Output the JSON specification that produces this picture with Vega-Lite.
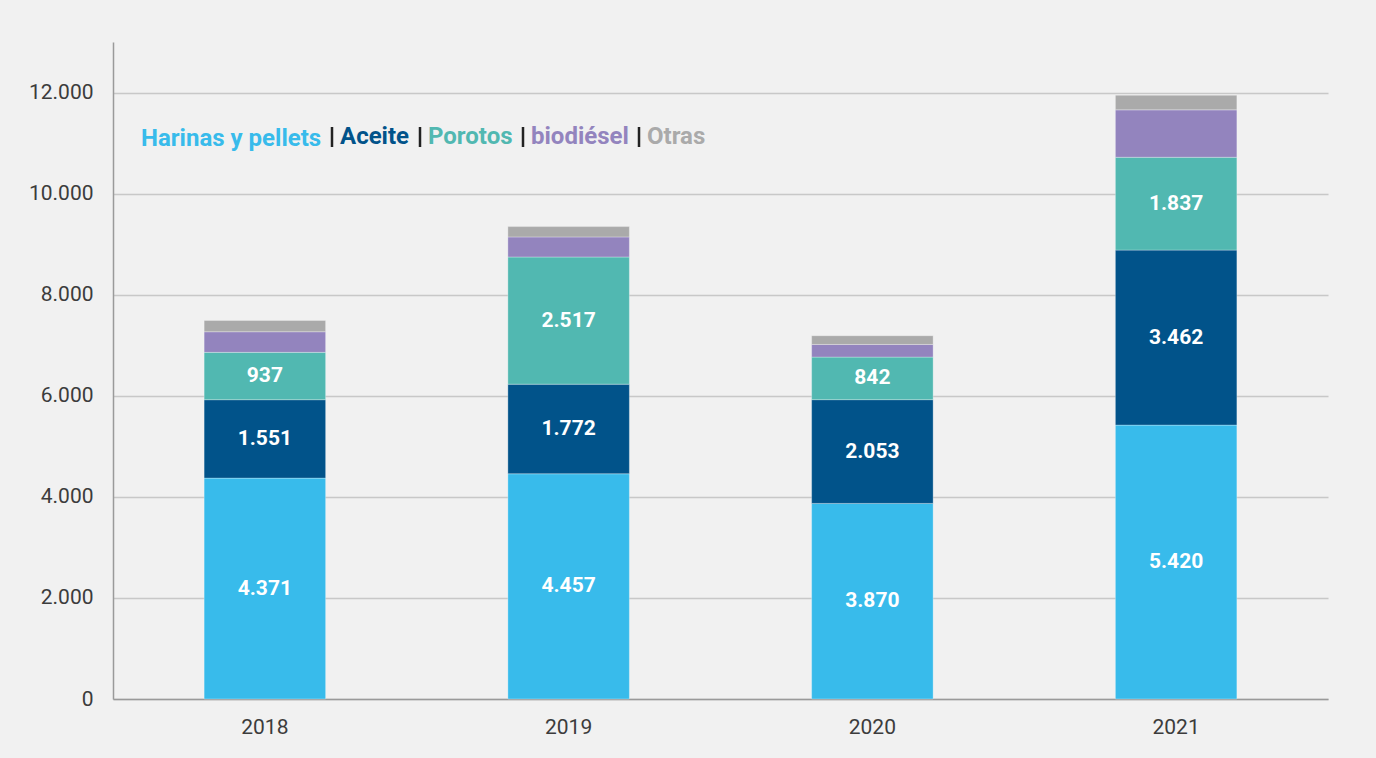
{
  "$schema": "https://vega.github.io/schema/vega-lite/v6.json",
  "width": 1215,
  "height": 657,
  "autosize": {"type": "none"},
  "padding": {"left": 113, "top": 42, "right": 48, "bottom": 59},
  "background": "#f1f1f1",
  "config": {
    "font": "Roboto",
    "view": {"stroke": null},
    "locale": {"number": {"decimal": ",", "thousands": ".", "grouping": [3], "currency": ["$", ""]}}
  },
  "data": {
    "values": [
      {"anio": "2018", "serie": "Harinas y pellets", "k": 1, "valor": 4371},
      {"anio": "2018", "serie": "Aceite", "k": 2, "valor": 1551},
      {"anio": "2018", "serie": "Porotos", "k": 3, "valor": 937},
      {"anio": "2018", "serie": "biodiésel", "k": 4, "valor": 408},
      {"anio": "2018", "serie": "Otras", "k": 5, "valor": 224},
      {"anio": "2019", "serie": "Harinas y pellets", "k": 1, "valor": 4457},
      {"anio": "2019", "serie": "Aceite", "k": 2, "valor": 1772},
      {"anio": "2019", "serie": "Porotos", "k": 3, "valor": 2517},
      {"anio": "2019", "serie": "biodiésel", "k": 4, "valor": 397},
      {"anio": "2019", "serie": "Otras", "k": 5, "valor": 204},
      {"anio": "2020", "serie": "Harinas y pellets", "k": 1, "valor": 3870},
      {"anio": "2020", "serie": "Aceite", "k": 2, "valor": 2053},
      {"anio": "2020", "serie": "Porotos", "k": 3, "valor": 842},
      {"anio": "2020", "serie": "biodiésel", "k": 4, "valor": 251},
      {"anio": "2020", "serie": "Otras", "k": 5, "valor": 172},
      {"anio": "2021", "serie": "Harinas y pellets", "k": 1, "valor": 5420},
      {"anio": "2021", "serie": "Aceite", "k": 2, "valor": 3462},
      {"anio": "2021", "serie": "Porotos", "k": 3, "valor": 1837},
      {"anio": "2021", "serie": "biodiésel", "k": 4, "valor": 938},
      {"anio": "2021", "serie": "Otras", "k": 5, "valor": 290}
    ]
  },
  "encoding": {
    "x": {
      "field": "anio",
      "type": "ordinal",
      "title": null,
      "scale": {"paddingInner": 0.6, "paddingOuter": 0.3},
      "axis": {
        "labelAngle": 0,
        "labelFontSize": 21,
        "labelColor": "#3c3c3c",
        "labelPadding": 17,
        "ticks": false,
        "domainColor": "#9a9a9a",
        "domainWidth": 1.5,
        "grid": false
      }
    }
  },
  "layer": [
    {
      "mark": {"type": "bar", "stroke": "#ffffff", "strokeWidth": 0.6, "strokeOpacity": 0.5},
      "encoding": {
        "y": {
          "field": "valor",
          "type": "quantitative",
          "stack": "zero",
          "title": null,
          "scale": {"domain": [0, 13000], "nice": false},
          "axis": {
            "values": [0, 2000, 4000, 6000, 8000, 10000, 12000],
            "format": ",d",
            "labelFontSize": 21,
            "labelColor": "#3c3c3c",
            "labelPadding": 20,
            "ticks": false,
            "domainColor": "#9a9a9a",
            "domainWidth": 1.5,
            "gridColor": "#c8c8c8",
            "gridWidth": 1.5
          }
        },
        "color": {
          "field": "serie",
          "type": "nominal",
          "scale": {
            "domain": ["Harinas y pellets", "Aceite", "Porotos", "biodiésel", "Otras"],
            "range": ["#38bbeb", "#01538a", "#51b8b1", "#9384be", "#aaaaaa"]
          },
          "legend": {
            "orient": "none",
            "legendX": 10,
            "legendY": 83,
            "direction": "horizontal",
            "title": null,
            "labelFontSize": 24,
            "labelFontWeight": "bold",
            "labelLimit": 400,
            "labelOffset": -6,
            "columnPadding": -9,
            "labelColor": {"expr": "scale('color', datum.value)"},
            "symbolType": "M-0.4,-2L-0.4,2",
            "symbolSize": 100,
            "symbolStrokeWidth": 2.5,
            "symbolStrokeColor": "#222222",
            "symbolFillColor": "transparent",
            "symbolOpacity": {"expr": "datum.index === 0 ? 0 : 1"}
          }
        },
        "order": {"field": "k", "type": "quantitative"}
      }
    },
    {
      "transform": [
        {"stack": "valor", "groupby": ["anio"], "sort": [{"field": "k"}], "as": ["v0", "v1"]},
        {"calculate": "(datum.v0 + datum.v1) / 2", "as": "mid"},
        {"filter": {"field": "k", "lte": 3}}
      ],
      "mark": {"type": "text", "color": "#ffffff", "fontWeight": "bold", "fontSize": 21, "baseline": "middle"},
      "encoding": {
        "y": {"field": "mid", "type": "quantitative"},
        "text": {"field": "valor", "type": "quantitative", "format": ",d"}
      }
    }
  ]
}
